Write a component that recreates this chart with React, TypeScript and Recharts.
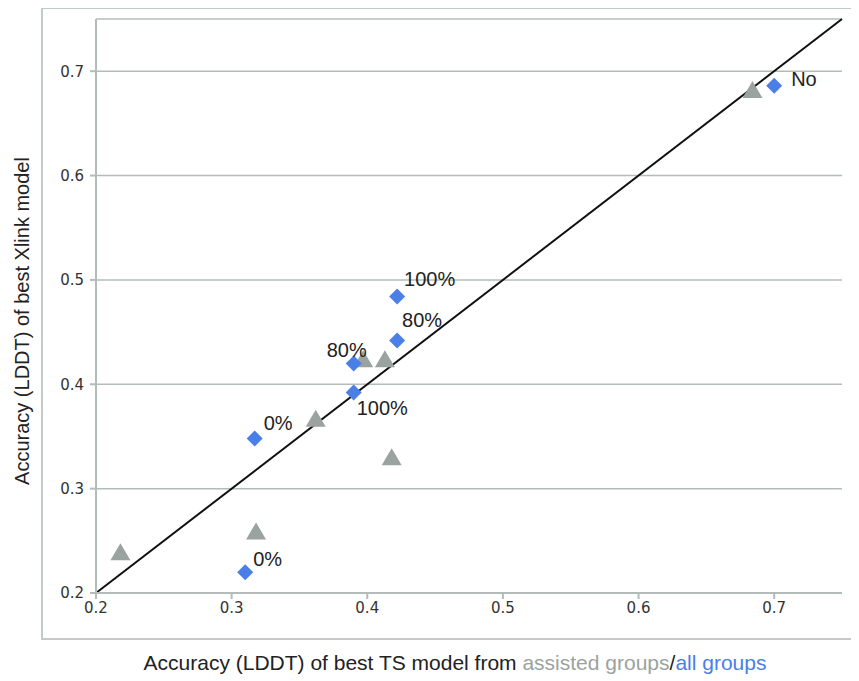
import { ScatterChart, Scatter, XAxis, YAxis, CartesianGrid, ReferenceLine, LabelList } from 'recharts'

// all groups (blue diamonds), with the label printed next to each point
const allX = [0.7, 0.422, 0.422, 0.39, 0.39, 0.317, 0.31]
const allY = [0.686, 0.484, 0.442, 0.42, 0.392, 0.348, 0.22]
const allLabels = ['No', '100%', '80%', '80%', '100%', '0%', '0%']

// assisted groups (grey triangles)
const assistedX = [0.684, 0.397, 0.413, 0.362, 0.418, 0.318, 0.218]
const assistedY = [0.681, 0.423, 0.423, 0.366, 0.329, 0.258, 0.238]

const xTicks = [0.2, 0.3, 0.4, 0.5, 0.6, 0.7]
const yTicks = [0.2, 0.3, 0.4, 0.5, 0.6, 0.7]

// where each label starts relative to its point (px)
const labelOffsets = [
  [17, -7], [7, -18], [5, -20], [-27, -13], [3, 15], [9, -16], [8, -13],
]

const BLUE = '#4a7fe8'
const GREY = '#9aa39f'
const AXIS = '#b3bcb8'
const FONT = "'Liberation Sans', Arial, sans-serif"

const allData = allX.map((x, i) => ({ x, y: allY[i], label: allLabels[i] }))
const assistedData = assistedX.map((x, i) => ({ x, y: assistedY[i] }))

const Diamond = (p: any) => {
  const { cx, cy } = p
  const r = 8
  return <path d={`M${cx},${cy - r}L${cx + r},${cy}L${cx},${cy + r}L${cx - r},${cy}Z`} fill={BLUE} />
}

const Triangle = (p: any) => {
  const { cx, cy } = p
  return <path d={`M${cx},${cy - 10}L${cx + 10},${cy + 7}L${cx - 10},${cy + 7}Z`} fill={GREY} />
}

const PointLabel = (p: any) => {
  const { x, y, width, height, index } = p
  const cx = x + width / 2
  const cy = y + height / 2
  const [dx, dy] = labelOffsets[index]
  return (
    <text x={cx + dx} y={cy + dy} dominantBaseline="central" fontSize={20} fill="#222" fontFamily={FONT}>
      {allLabels[index]}
    </text>
  )
}

const tickStyle = { fontSize: 15, fill: '#333', fontFamily: "'DejaVu Sans', Verdana, sans-serif" }

export default function App() {
  return (
    <div style={{ position: 'relative', width: 851, height: 673 }}>
      <div style={{ position: 'absolute', left: 33, top: -1, width: 830, height: 633, border: '2px solid #c3cbc8', boxSizing: 'border-box' }} />
      <div style={{ position: 'absolute', left: 0, top: 0 }}>
        <ScatterChart width={851} height={673} margin={{ top: 11, right: 17, bottom: 48, left: 8 }}>
          <CartesianGrid horizontal vertical={false} stroke={AXIS} strokeWidth={1.5} />
          <XAxis type="number" dataKey="x" domain={[0.2, 0.75]} ticks={xTicks} allowDataOverflow
            tickFormatter={(v: number) => v.toFixed(1)} tick={tickStyle}
            stroke={AXIS} strokeWidth={2} tickSize={6} tickMargin={3} height={40} />
          <YAxis type="number" dataKey="y" domain={[0.2, 0.75]} ticks={yTicks} allowDataOverflow
            tickFormatter={(v: number) => v.toFixed(1)} tick={tickStyle}
            stroke={AXIS} strokeWidth={2} tickSize={6} tickMargin={6} width={80} />
          <ReferenceLine segment={[{ x: 0.2, y: 0.2 }, { x: 0.75, y: 0.75 }]} stroke="#111" strokeWidth={2} ifOverflow="visible" />
          <Scatter data={assistedData} shape={<Triangle />} isAnimationActive={false} />
          <Scatter data={allData} shape={<Diamond />} isAnimationActive={false}>
            <LabelList dataKey="label" content={<PointLabel />} />
          </Scatter>
        </ScatterChart>
      </div>
      <div style={{ position: 'absolute', left: 0, width: 894, top: 643, textAlign: 'center', fontSize: 21, color: '#222', fontFamily: FONT }}>
        Accuracy (LDDT) of best TS model from <span style={{ color: GREY }}>assisted groups</span>/<span style={{ color: BLUE }}>all groups</span>
      </div>
      <div style={{ position: 'absolute', left: 14, top: 313, width: 0, height: 0 }}>
        <div style={{ position: 'absolute', transform: 'translate(-50%, -50%) rotate(-90deg)', whiteSpace: 'nowrap', fontSize: 20, color: '#222', fontFamily: FONT }}>
          Accuracy (LDDT) of best Xlink model
        </div>
      </div>
    </div>
  )
}
